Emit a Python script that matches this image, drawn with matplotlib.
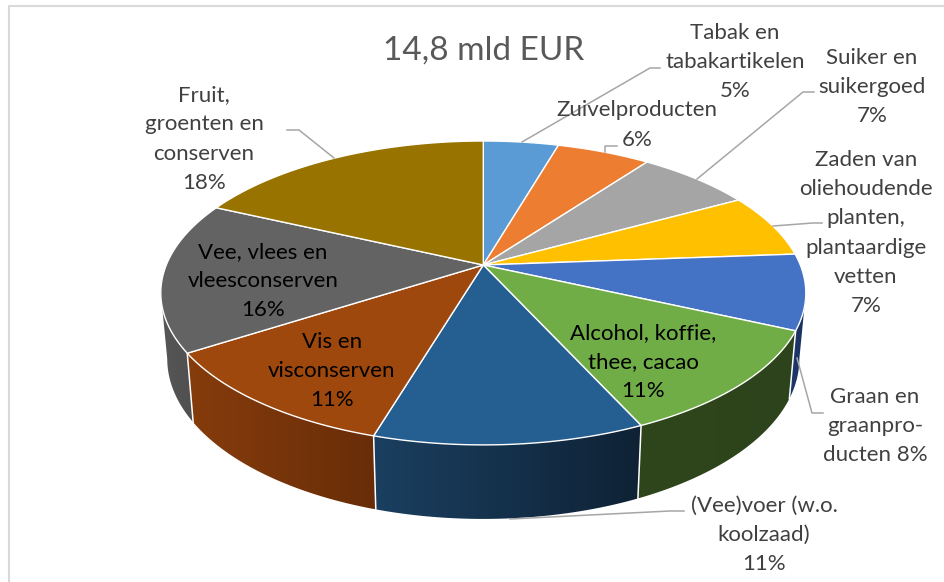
import numpy as np
import matplotlib.pyplot as plt
from matplotlib.colors import to_rgb
from matplotlib.patches import Polygon

plt.rcParams['font.family'] = ['Lato', 'DejaVu Sans']

# slices, clockwise from 12 o'clock
names = ['Tabak', 'Zuivel', 'Suiker', 'Zaden', 'Graan', 'Alcohol', 'Voer', 'Vis', 'Vee', 'Fruit']
shares = [4.5, 5.6, 6.9, 6.8, 8.0, 11.4, 11.4, 11.3, 16.0, 18.1]
top_colors = ['#5B9BD5', '#ED7D31', '#A5A5A5', '#FFC000', '#4472C4',
              '#70AD47', '#255E91', '#9E480E', '#636363', '#997300']
wall_left = ['#3A6A96', '#A3551F', '#707070', '#AD8200', '#1F3A70',
             '#2F461C', '#1A3F60', '#863C0C', '#575757', '#665000']
wall_right = ['#3A6A96', '#A3551F', '#707070', '#AD8200', '#1A2E5C',
              '#2D431B', '#0F2235', '#682D08', '#4F4F4F', '#665000']

title = '14,8 mld EUR'
outside_labels = [
    ('Tabak en\ntabakartikelen\n5%', 735, 62),
    ('Zuivelproducten\n6%', 637, 125),
    ('Suiker en\nsuikergoed\n7%', 872, 87),
    ('Zaden van\noliehoudende\nplanten,\nplantaardige\nvetten\n7%', 866, 233),
    ('Graan en\ngraanpro-\nducten 8%', 875, 426),
    ('(Vee)voer (w.o.\nkoolzaad)\n11%', 764, 535),
    ('Fruit,\ngroenten en\nconserven\n18%', 204, 139),
]
inside_labels = [
    ('Alcohol, koffie,\nthee, cacao\n11%', 643, 362),
    ('Vis en\nvisconserven\n11%', 332, 371),
    ('Vee, vlees en\nvleesconserven\n16%', 263, 281),
]
leaders = [
    ([522, 650, 660], [142, 68, 68]),
    ([605, 605, 617], [152, 146, 146]),
    ([697, 803, 814], [179, 92, 92]),
    ([773, 813, 822], [226, 223, 223]),
    ([797, 812, 823], [358, 413, 413]),
    ([510, 670, 684], [519, 511, 511]),
    ([334, 299, 287], [158, 130, 130]),
]

# pie geometry in pixels, perspective view of a disc
cx, cy = 483.3, 265
R, H, k = 317, 146.8, 0.184


def rim(theta):
    u, v = np.sin(theta), np.cos(theta)
    w = 1 + k * v
    return cx + R * u / w, cy - H * v / w


def bottom(theta):
    x, y = rim(theta)
    return cx + 0.98 * (x - cx), 1.054 * y + 50


fig = plt.figure(figsize=(9.45, 5.82), dpi=100)
ax = fig.add_axes([0, 0, 1, 1])
ax.set_xlim(0, 945)
ax.set_ylim(582, 0)
ax.axis('off')

# chart frame, only left and top are in view
ax.plot([9, 9, 945], [582, 6, 6], color='#D9D9D9', lw=1.5, zorder=1)

edges = np.radians(np.cumsum([0] + shares) * 3.6)

# the wall is only seen between the two points where the rim turns back
wall_from = np.arccos(-k)
wall_to = 2 * np.pi - wall_from

for i in range(len(shares)):
    t0, t1 = max(edges[i], wall_from), min(edges[i + 1], wall_to)
    if t1 <= t0:
        continue
    t = np.linspace(t0, t1, 60)
    xt, yt = rim(t)
    xb, yb = bottom(t)
    xs = np.r_[xt, xb[::-1]]
    ys = np.r_[yt, yb[::-1]]
    poly = Polygon(np.c_[xs, ys], closed=True, transform=ax.transData, fc='none', ec='none')
    ax.add_patch(poly)
    ramp = np.linspace(0, 1, 128)[None, :, None]
    c0, c1 = np.array(to_rgb(wall_left[i])), np.array(to_rgb(wall_right[i]))
    img = c0 + (c1 - c0) * ramp
    im = ax.imshow(img, extent=[xs.min(), xs.max(), ys.max(), ys.min()], aspect='auto', zorder=2)
    im.set_clip_path(poly)

ax.set_xlim(0, 945)
ax.set_ylim(582, 0)

# white seams on the visible part of the wall
for e in edges:
    if wall_from < e < wall_to:
        x0, y0 = rim(e)
        x1, y1 = bottom(e)
        ax.plot([x0, x1], [y0, y1], color='white', lw=1.1, zorder=3)

# top surface
for i in range(len(shares)):
    t = np.linspace(edges[i], edges[i + 1], 80)
    xt, yt = rim(t)
    ax.add_patch(Polygon(np.c_[np.r_[cx, xt], np.r_[cy, yt]], closed=True,
                         fc=top_colors[i], ec='white', lw=1.0, zorder=4))

for xs, ys in leaders:
    ax.plot(xs, ys, color='#A6A6A6', lw=1.1, zorder=5)

ax.text(484, 51, title, fontsize=24, color='#595959', ha='center', va='center', zorder=6)
for txt, x, y in outside_labels:
    ax.text(x, y, txt, fontsize=16, color='#404040', ha='center', va='center',
            linespacing=1.57, zorder=6)
for txt, x, y in inside_labels:
    ax.text(x, y, txt, fontsize=16, color='black', ha='center', va='center',
            linespacing=1.57, zorder=6)

plt.savefig('out.png', dpi=100)
